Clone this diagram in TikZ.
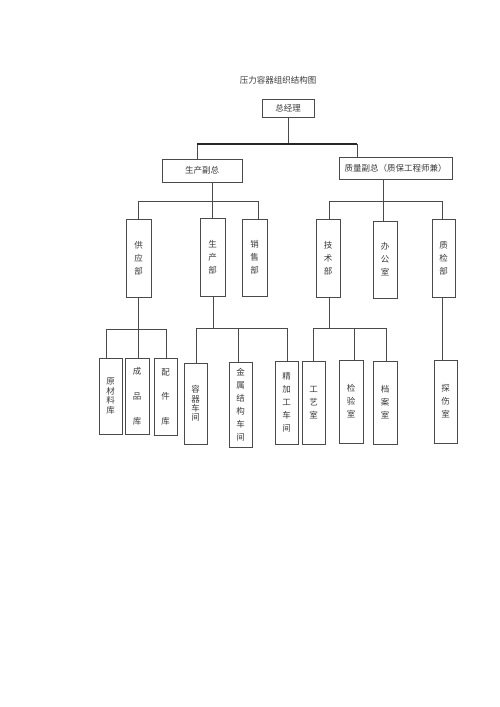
\documentclass[tikz,border=0pt]{standalone}
\usepackage{fontspec}
\newfontfamily\cjk{Noto Sans CJK SC}
\definecolor{linec}{HTML}{4A4A4A}
\definecolor{textc}{HTML}{3A3A3A}
\begin{document}
\begin{tikzpicture}[x=1pt,y=-1pt,
  box/.style={draw=linec, line width=0.8pt, inner sep=0pt, outer sep=0pt,
    align=center, text=textc, font=\cjk\fontsize{8.5}{13}\selectfont},
  conn/.style={draw=linec, line width=0.8pt},
  busline/.style={draw=black!85, line width=1.8pt}]
\useasboundingbox[fill=white] (0,0) rectangle (500,707);

\node[text=textc, font=\cjk\fontsize{8.5}{10}\selectfont] (title) at (278,80) {压力容器组织结构图};

% level 0-1
\node[box, minimum width=52pt, minimum height=18pt] (gm) at (288,108) {总经理};
\node[box, minimum width=80pt, minimum height=23pt] (vp1) at (202,170.5) {生产副总};
\node[box, minimum width=113pt, minimum height=22pt] (vp2) at (395.5,168) {质量副总（质保工程师兼）};

% level 2
\node[box, minimum width=25pt, minimum height=78pt] (gyb) at (138.5,258) {供\\应\\部};
\node[box, minimum width=25pt, minimum height=78pt] (scb) at (212.5,257) {生\\产\\部};
\node[box, minimum width=25pt, minimum height=77pt] (xsb) at (254.5,257.5) {销\\售\\部};
\node[box, minimum width=24pt, minimum height=78pt] (jsb) at (328,258) {技\\术\\部};
\node[box, minimum width=24pt, minimum height=77pt] (bgs) at (385,259.5) {办\\公\\室};
\node[box, minimum width=23pt, minimum height=78pt] (zjb) at (443.5,258) {质\\检\\部};

% level 3
\node[box, minimum width=23pt, minimum height=76pt, font=\cjk\fontsize{8.5}{9.6}\selectfont] (ycl) at (110.5,396) {原\\材\\料\\库};
\node[box, minimum width=24pt, minimum height=76pt, font=\cjk\fontsize{8.5}{25}\selectfont] (cpk) at (137,396) {成\\品\\库};
\node[box, minimum width=23pt, minimum height=77pt, font=\cjk\fontsize{8.5}{24.5}\selectfont] (pjk) at (165.5,396.5) {配\\件\\库};
\node[box, minimum width=23pt, minimum height=81pt, font=\cjk\fontsize{8.5}{9.2}\selectfont] (rq) at (195.5,403.5) {容\\器\\车\\间};
\node[box, minimum width=23pt, minimum height=85pt] (js) at (240.5,404.5) {金\\属\\结\\构\\车\\间};
\node[box, minimum width=23pt, minimum height=83pt] (jjg) at (286.5,402.5) {精\\加\\工\\车\\间};
\node[box, minimum width=23pt, minimum height=83pt] (gys) at (313.5,402.5) {工\\艺\\室};
\node[box, minimum width=24pt, minimum height=83pt] (jys) at (351,401.5) {检\\验\\室};
\node[box, minimum width=24pt, minimum height=83pt] (das) at (385,402.5) {档\\案\\室};
\node[box, minimum width=23pt, minimum height=83pt] (tss) at (445.5,401.5) {探\\伤\\室};

% junctions
\coordinate (b0L) at (197,144);
\coordinate (b0R) at (357,144);
\coordinate (j1) at (212.5,201);
\coordinate (j2) at (383,201);
\coordinate (j3) at (138.5,329);
\coordinate (j4) at (213,328);
\coordinate (j5) at (329,328);

% top bus
\draw[conn] (gm.south) -- (gm.south |- b0L);
\draw[conn] (b0L) -- (b0L |- vp1.north);
\draw[conn] (b0R) -- (b0R |- vp2.north);
\draw[busline] (b0L) -- (b0R);

% production VP
\draw[conn] (vp1.south -| j1) -- (j1);
\draw[conn] (gyb.north) |- (j1);
\draw[conn] (scb.north) -- (scb.north |- j1);
\draw[conn] ([xshift=3.5pt]xsb.north) |- (j1);

% quality VP
\draw[conn] (vp2.south -| j2) -- (j2);
\draw[conn] ([xshift=1pt]jsb.north) |- (j2);
\draw[conn] ([xshift=-2pt]bgs.north) -- ([xshift=-2pt]bgs.north |- j2);
\draw[conn] ([xshift=-1.5pt]zjb.north) |- (j2);

% supply dept
\draw[conn] (gyb.south) -- (j3);
\draw[conn] ([xshift=-4.5pt]ycl.north) |- (j3);
\draw[conn] ([xshift=1pt]cpk.north) -- ([xshift=1pt]cpk.north |- j3);
\draw[conn] ([xshift=0.5pt]pjk.north) |- (j3);

% production dept
\draw[conn] ([xshift=0.5pt]scb.south) -- (j4);
\draw[conn] ([xshift=0.5pt]rq.north) |- (j4);
\draw[conn] ([xshift=-2.5pt]js.north) |- (j4);
\draw[conn] ([xshift=0.5pt]jjg.north) |- (j4);

% technical dept
\draw[conn] ([xshift=1pt]jsb.south) -- (j5);
\draw[conn] ([xshift=-0.5pt]gys.north) |- (j5);
\draw[conn] ([xshift=3pt]jys.north) |- (j5);
\draw[conn] ([xshift=1pt]das.north) |- (j5);

% QC dept
\draw[conn] ([xshift=-1.5pt]zjb.south) -- ([xshift=-1.5pt]zjb.south |- tss.north);
\end{tikzpicture}
\end{document}
